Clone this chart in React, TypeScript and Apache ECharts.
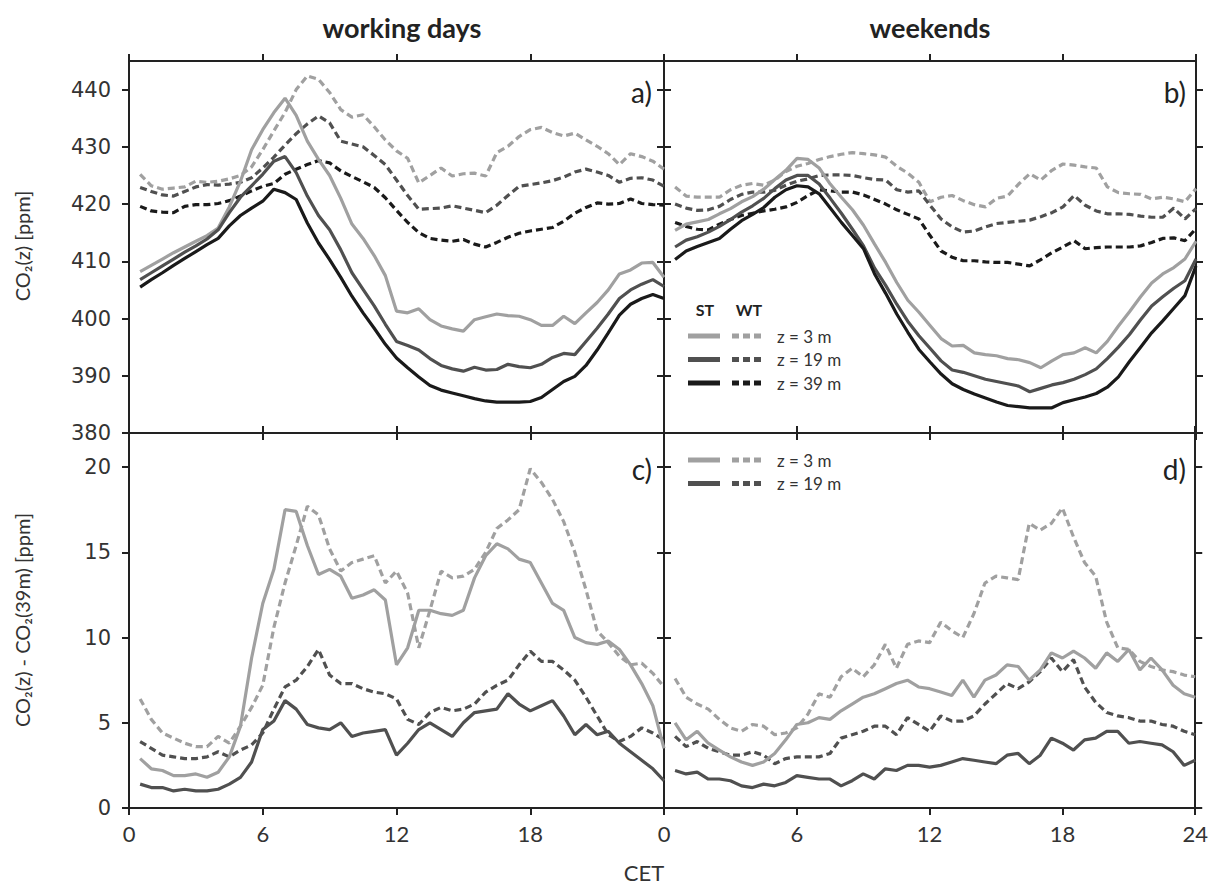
import React, { useEffect, useRef } from 'react';
import * as echarts from 'echarts';

// Half-hourly time axis (CET hours)
const hours = [0.5, 1, 1.5, 2, 2.5, 3, 3.5, 4, 4.5, 5, 5.5, 6, 6.5, 7, 7.5, 8, 8.5, 9, 9.5, 10, 10.5, 11, 11.5, 12,
  12.5, 13, 13.5, 14, 14.5, 15, 15.5, 16, 16.5, 17, 17.5, 18, 18.5, 19, 19.5, 20, 20.5, 21, 21.5, 22, 22.5, 23, 23.5, 24];

const xTicks = [0, 6, 12, 18, 24];
const topYTicks = [380, 390, 400, 410, 420, 430, 440];
const bottomYTicks = [0, 5, 10, 15, 20];

// a) working days, CO2(z)
const aST3 = [408.2, 409.3, 410.4, 411.5, 412.5, 413.5, 414.5, 415.8, 419.5, 424.0, 429.5, 433.0, 436.0, 438.5, 435.5, 431.0,
  427.8, 425.0, 421.0, 416.5, 414.0, 411.0, 407.5, 401.3, 401.0, 401.7, 399.8, 398.7, 398.2, 397.8, 399.8, 400.3,
  400.8, 400.5, 400.4, 399.8, 398.8, 398.8, 400.4, 399.1, 401.0, 402.8, 405.0, 407.8, 408.5, 409.7, 409.8, 407.2];
const aST19 = [406.8, 408.0, 409.2, 410.4, 411.6, 412.7, 413.9, 415.5, 418.5, 421.2, 423.2, 425.2, 427.5, 428.3, 425.5, 421.4,
  418.0, 415.5, 412.0, 408.0, 405.1, 402.2, 399.0, 396.0, 395.3, 394.5, 393.0, 391.8, 391.2, 390.8, 391.5, 391.0,
  391.1, 392.0, 391.6, 391.4, 392.0, 393.2, 393.9, 393.7, 396.0, 398.3, 400.8, 403.5, 405.0, 406.0, 406.8, 405.6];
const aST39 = [405.5, 406.8, 408.0, 409.3, 410.5, 411.7, 412.9, 414.0, 416.2, 418.0, 419.3, 420.5, 422.6, 422.0, 420.8, 416.7,
  413.2, 410.3, 407.2, 403.9, 401.0, 398.3, 395.5, 393.1, 391.4, 389.8, 388.3, 387.5, 387.0, 386.5, 386.0, 385.6,
  385.4, 385.4, 385.4, 385.5, 386.2, 387.6, 389.0, 389.9, 391.8, 394.5, 397.5, 400.6, 402.5, 403.5, 404.2, 403.5];
const aWT3 = [425.2, 423.2, 422.6, 422.8, 423.0, 424.0, 423.8, 424.0, 424.4, 425.0, 426.5, 429.5, 432.8, 436.0, 440.0, 442.4,
  441.8, 439.5, 436.5, 435.2, 435.6, 433.5, 431.2, 429.3, 428.0, 423.7, 425.0, 426.3, 424.9, 425.3, 425.4, 424.9,
  429.0, 430.1, 431.8, 433.0, 433.4, 432.5, 431.9, 432.4, 431.2, 430.1, 428.8, 426.9, 428.8, 428.3, 427.5, 426.1];
const aWT19 = [422.9, 422.2, 421.6, 421.4, 422.2, 423.0, 423.4, 423.3, 423.5, 423.8, 424.6, 426.3, 428.2, 430.3, 432.3, 434.0,
  435.4, 434.2, 431.0, 430.5, 430.0, 428.5, 426.9, 424.2, 421.5, 419.1, 419.2, 419.3, 419.7, 419.3, 418.9, 418.5,
  419.8, 421.5, 423.1, 423.4, 423.7, 424.1, 424.7, 425.6, 426.1, 425.6, 425.0, 423.8, 424.5, 424.6, 424.2, 423.1];
const aWT39 = [419.6, 418.8, 418.6, 418.5, 419.6, 419.9, 419.9, 420.1, 420.6, 421.4, 422.3, 423.1, 423.6, 425.2, 426.1, 426.9,
  427.6, 427.2, 425.8, 424.8, 423.9, 422.9, 421.1, 418.9, 416.8, 415.0, 414.0, 413.7, 413.5, 413.8, 413.0, 412.5,
  413.3, 414.2, 414.9, 415.3, 415.6, 415.9, 417.0, 418.4, 419.4, 420.2, 420.0, 420.1, 420.9, 420.1, 419.9, 419.8];

// b) weekends, CO2(z)
const bST3 = [415.4, 416.5, 416.9, 417.3, 418.3, 419.2, 420.4, 421.3, 422.6, 424.3, 425.9, 428.0, 427.8, 426.3, 423.5, 421.2,
  419.0, 416.3, 413.0, 409.8, 406.3, 403.2, 401.1, 398.8, 396.5, 395.2, 395.3, 394.0, 393.7, 393.5, 393.0, 392.8,
  392.3, 391.4, 392.6, 393.7, 394.0, 394.9, 394.0, 396.0, 398.7, 401.2, 403.8, 406.2, 407.8, 408.9, 410.4, 413.5];
const bST19 = [412.5, 413.7, 414.3, 415.1, 416.1, 417.3, 418.6, 419.7, 421.0, 422.7, 424.2, 425.0, 425.0, 423.5, 421.0, 418.4,
  415.6, 412.7, 408.8, 405.8, 402.5, 399.5, 397.0, 394.8, 392.6, 391.0, 390.6, 390.0, 389.4, 389.0, 388.6, 388.2,
  387.2, 387.8, 388.4, 388.8, 389.4, 390.2, 391.2, 393.0, 395.0, 397.2, 399.8, 402.2, 403.8, 405.3, 406.6, 410.4];
const bST39 = [410.3, 411.8, 412.6, 413.3, 414.0, 415.6, 417.1, 418.2, 419.4, 421.2, 422.5, 423.2, 423.0, 421.8, 419.3, 416.8,
  414.5, 412.2, 407.8, 404.4, 400.8, 397.6, 394.6, 392.4, 390.3, 388.6, 387.6, 386.8, 386.1, 385.4, 384.8, 384.6,
  384.4, 384.4, 384.4, 385.3, 385.8, 386.3, 386.9, 388.0, 389.8, 392.5, 395.0, 397.5, 399.6, 401.8, 404.0, 409.2];
const bWT3 = [423.0, 421.4, 421.2, 421.2, 421.2, 422.5, 423.3, 423.6, 423.3, 424.2, 425.7, 426.6, 427.1, 427.8, 428.3, 428.7,
  429.0, 428.8, 428.6, 428.2, 426.6, 425.4, 423.8, 420.4, 421.2, 421.5, 420.6, 419.9, 419.5, 421.0, 421.4, 423.5,
  425.3, 424.2, 425.9, 427.0, 426.8, 426.5, 426.3, 423.0, 422.0, 421.8, 421.7, 420.9, 421.2, 420.9, 420.4, 422.7];
const bWT19 = [420.0, 419.3, 418.9, 419.0, 419.6, 420.8, 421.7, 422.1, 422.1, 422.4, 423.3, 424.0, 424.4, 425.0, 425.1, 425.1,
  425.0, 424.6, 424.3, 424.2, 422.5, 422.1, 422.3, 419.8, 417.4, 416.0, 415.1, 415.3, 416.0, 416.6, 416.8, 417.0,
  417.2, 417.8, 418.5, 419.5, 421.5, 419.8, 418.8, 418.3, 418.3, 418.2, 417.9, 417.7, 417.7, 419.3, 417.4, 419.2];
const bWT39 = [416.8, 416.1, 415.6, 415.5, 416.5, 417.3, 418.0, 418.4, 418.8, 419.1, 419.5, 420.3, 421.5, 422.5, 422.3, 422.1,
  422.1, 421.6, 420.8, 420.0, 419.0, 418.2, 417.4, 414.5, 411.8, 410.7, 410.1, 410.1, 409.9, 409.8, 409.8, 409.5,
  409.2, 410.3, 411.5, 412.5, 413.6, 412.2, 412.4, 412.5, 412.5, 412.5, 412.7, 413.3, 414.0, 414.1, 413.6, 415.7];

// c) working days, CO2(z) - CO2(39m)
const cST3 = [2.9, 2.3, 2.2, 1.9, 1.9, 2.0, 1.8, 2.1, 3.0, 4.8, 8.8, 12.0, 14.0, 17.5, 17.4, 15.4,
  13.7, 14.0, 13.6, 12.3, 12.5, 12.8, 12.2, 8.4, 9.4, 11.6, 11.6, 11.4, 11.3, 11.6, 13.5, 14.8,
  15.5, 15.2, 14.6, 14.4, 13.2, 12.0, 11.6, 10.0, 9.7, 9.6, 9.8, 9.3, 8.4, 7.3, 6.0, 3.5];
const cWT3 = [6.4, 5.2, 4.4, 4.1, 3.8, 3.6, 3.6, 4.2, 3.8, 4.8, 5.9, 7.2, 10.6, 13.2, 15.4, 17.7,
  17.2, 15.2, 13.9, 14.4, 14.6, 14.8, 13.2, 13.9, 12.6, 9.4, 11.6, 13.9, 13.5, 13.6, 14.0, 15.0,
  16.4, 16.9, 17.5, 19.9, 19.1, 18.1, 16.8, 15.0, 12.8, 10.4, 9.7, 8.9, 8.4, 8.5, 7.9, 7.1];
const cST19 = [1.4, 1.2, 1.2, 1.0, 1.1, 1.0, 1.0, 1.1, 1.4, 1.8, 2.7, 4.6, 5.1, 6.3, 5.8, 4.9,
  4.7, 4.6, 5.0, 4.2, 4.4, 4.5, 4.6, 3.1, 3.8, 4.6, 5.0, 4.6, 4.2, 5.0, 5.6, 5.7,
  5.8, 6.7, 6.1, 5.7, 6.0, 6.3, 5.4, 4.3, 4.9, 4.3, 4.5, 3.8, 3.3, 2.8, 2.3, 1.6];
const cWT19 = [3.9, 3.5, 3.1, 3.0, 2.9, 2.9, 3.0, 3.3, 3.0, 3.4, 3.7, 4.4, 5.8, 7.1, 7.5, 8.3,
  9.3, 7.8, 7.3, 7.3, 7.0, 6.8, 6.7, 6.4, 5.2, 4.9, 5.6, 5.9, 5.7, 5.8, 6.1, 6.8,
  7.2, 7.5, 8.4, 9.2, 8.6, 8.6, 8.1, 7.5, 6.5, 5.4, 4.3, 3.9, 4.2, 4.7, 4.4, 4.0];

// d) weekends, CO2(z) - CO2(39m)
const dST3 = [5.0, 4.0, 4.5, 3.8, 3.4, 3.0, 2.7, 2.5, 2.7, 3.2, 4.0, 4.9, 5.0, 5.3, 5.2, 5.7,
  6.1, 6.5, 6.7, 7.0, 7.3, 7.5, 7.1, 7.0, 6.8, 6.6, 7.5, 6.5, 7.5, 7.8, 8.4, 8.3,
  7.5, 8.1, 9.1, 8.8, 9.2, 8.8, 8.2, 9.1, 8.6, 9.3, 8.1, 8.8, 8.1, 7.2, 6.7, 6.5];
const dWT3 = [7.6, 6.5, 6.1, 5.8, 5.2, 4.7, 4.5, 4.9, 4.8, 4.3, 4.4, 4.7, 5.5, 6.7, 6.5, 7.7,
  8.2, 7.7, 8.4, 9.6, 8.2, 9.6, 9.8, 9.7, 10.9, 10.4, 10.0, 11.4, 13.2, 13.6, 13.5, 13.4,
  16.7, 16.3, 16.7, 17.6, 15.9, 14.4, 13.6, 10.9, 9.4, 9.3, 8.6, 8.3, 8.1, 8.0, 7.8, 7.7];
const dST19 = [2.2, 2.0, 2.1, 1.7, 1.7, 1.6, 1.3, 1.2, 1.4, 1.3, 1.5, 1.9, 1.8, 1.7, 1.7, 1.3,
  1.6, 2.0, 1.7, 2.3, 2.2, 2.5, 2.5, 2.4, 2.5, 2.7, 2.9, 2.8, 2.7, 2.6, 3.1, 3.2,
  2.6, 3.1, 4.1, 3.8, 3.4, 4.0, 4.1, 4.5, 4.5, 3.8, 3.9, 3.8, 3.7, 3.3, 2.5, 2.8];
const dWT19 = [4.2, 3.6, 3.9, 3.5, 3.3, 3.1, 3.1, 3.3, 3.1, 2.6, 2.9, 3.0, 3.0, 3.0, 3.2, 4.1,
  4.3, 4.5, 4.8, 4.8, 4.3, 5.3, 4.9, 4.5, 5.4, 5.1, 5.1, 5.4, 6.1, 6.7, 7.3, 7.0,
  7.4, 8.0, 8.8, 8.0, 8.7, 7.1, 6.2, 5.6, 5.4, 5.3, 5.1, 5.1, 4.9, 4.8, 4.5, 4.3];

const C3 = '#a0a0a0';
const C19 = '#505050';
const C39 = '#1a1a1a';
const AXIS = '#222';
const DASH = [7, 4];

const panels = [
  { left: 129, top: 61, width: 535, height: 372, min: 380, max: 445, ticks: topYTicks, xLabels: false, yLabels: true,
    series: [
      { v: aWT3, c: C3, d: true }, { v: aWT19, c: C19, d: true }, { v: aWT39, c: C39, d: true },
      { v: aST3, c: C3, d: false }, { v: aST19, c: C19, d: false }, { v: aST39, c: C39, d: false },
    ] },
  { left: 664, top: 61, width: 532, height: 372, min: 380, max: 445, ticks: topYTicks, xLabels: false, yLabels: false,
    series: [
      { v: bWT3, c: C3, d: true }, { v: bWT19, c: C19, d: true }, { v: bWT39, c: C39, d: true },
      { v: bST3, c: C3, d: false }, { v: bST19, c: C19, d: false }, { v: bST39, c: C39, d: false },
    ] },
  { left: 129, top: 433, width: 535, height: 375, min: 0, max: 22, ticks: bottomYTicks, xLabels: true, yLabels: true,
    series: [
      { v: cWT3, c: C3, d: true }, { v: cWT19, c: C19, d: true },
      { v: cST3, c: C3, d: false }, { v: cST19, c: C19, d: false },
    ] },
  { left: 664, top: 433, width: 532, height: 375, min: 0, max: 22, ticks: bottomYTicks, xLabels: true, yLabels: false,
    series: [
      { v: dWT3, c: C3, d: true }, { v: dWT19, c: C19, d: true },
      { v: dST3, c: C3, d: false }, { v: dST19, c: C19, d: false },
    ] },
];

const SANS = 'Lato, "Open Sans", sans-serif';

function buildOption() {
  const grid: any[] = [];
  const xAxis: any[] = [];
  const yAxis: any[] = [];
  const series: any[] = [];
  const lineCommon = { show: true, onZero: false, lineStyle: { color: AXIS, width: 2 } };
  const tickCommon = { show: true, inside: false, length: 7, lineStyle: { color: AXIS, width: 2 } };

  panels.forEach((p, i) => {
    grid.push({ left: p.left, top: p.top, width: p.width, height: p.height, containLabel: false });
    const isRight = i % 2 === 1;
    const xLabelVals = isRight ? [6, 12, 18, 24] : xTicks;
    xAxis.push({
      gridIndex: i, type: 'value', min: 0, max: 24, interval: 6, position: 'bottom',
      axisLine: lineCommon, axisTick: { ...tickCommon, customValues: xTicks }, splitLine: { show: false },
      axisLabel: {
        show: p.xLabels, customValues: xLabelVals, margin: 14, color: '#333', fontSize: 22, fontFamily: SANS,
        formatter: (v: number) => (!isRight && v === 24 ? '0' : String(v)),
      },
    });
    xAxis.push({
      gridIndex: i, type: 'value', min: 0, max: 24, interval: 6, position: 'top',
      axisLine: lineCommon, axisTick: { ...tickCommon, customValues: xTicks }, splitLine: { show: false },
      axisLabel: { show: false },
    });
    yAxis.push({
      gridIndex: i, type: 'value', min: p.min, max: p.max, interval: 5, position: 'left',
      axisLine: lineCommon, axisTick: { ...tickCommon, customValues: p.ticks }, splitLine: { show: false },
      axisLabel: {
        show: p.yLabels, customValues: p.ticks, margin: 18, color: '#333', fontSize: 21,
        fontFamily: '"DejaVu Sans", Verdana, sans-serif',
      },
    });
    yAxis.push({
      gridIndex: i, type: 'value', min: p.min, max: p.max, interval: 5, position: 'right',
      axisLine: lineCommon, axisTick: { ...tickCommon, customValues: p.ticks }, splitLine: { show: false },
      axisLabel: { show: false },
    });
    p.series.forEach((s) => {
      series.push({
        type: 'line', xAxisIndex: i * 2, yAxisIndex: i * 2, silent: true,
        showSymbol: false, symbol: 'none', clip: true,
        data: hours.map((h, k) => [h, s.v[k]]),
        lineStyle: { color: s.c, width: 3.2, type: s.d ? DASH : 'solid' },
        z: s.d ? 2 : 3,
      });
    });
  });

  const txt = (x: number, y: number, text: string, o: any = {}) => ({
    type: 'text', x, y, rotation: o.rotation || 0,
    style: {
      text, fill: o.fill || '#333', fontSize: o.size || 16, fontFamily: o.family || SANS,
      fontWeight: o.weight || 'normal', align: o.align || 'left', verticalAlign: 'middle',
    },
  });
  const seg = (x1: number, x2: number, y: number, c: string, dashed: boolean) => ({
    type: 'line', shape: { x1, y1: y, x2, y2: y },
    style: { stroke: c, lineWidth: 5, lineDash: dashed ? [7, 4] : null },
  });

  const legendRows = (y0: number, rows: { c: string; t: string }[]) => {
    const out: any[] = [];
    rows.forEach((r, k) => {
      const y = y0 + k * 23.5;
      out.push(seg(688, 720, y, r.c, false));
      out.push(seg(732, 764, y, r.c, true));
      out.push(txt(777, y, r.t, { size: 17, fill: '#333' }));
    });
    return out;
  };

  const graphic: any[] = [
    txt(402, 27, 'working days', { size: 27, weight: 'bold', align: 'center', fill: '#222' }),
    txt(930, 27, 'weekends', { size: 27, weight: 'bold', align: 'center', fill: '#222' }),
    txt(644, 872, 'CET', { size: 22, align: 'center', fill: '#333' }),
    txt(22, 246, 'CO₂(z) [ppm]', { size: 20, align: 'center', rotation: Math.PI / 2, fill: '#333' }),
    txt(22, 620, 'CO₂(z) - CO₂(39m) [ppm]', { size: 20, align: 'center', rotation: Math.PI / 2, fill: '#333' }),
    txt(652, 92, 'a)', { size: 28, align: 'right', fill: '#222' }),
    txt(1186, 92, 'b)', { size: 28, align: 'right', fill: '#222' }),
    txt(652, 469, 'c)', { size: 28, align: 'right', fill: '#222' }),
    txt(1186, 469, 'd)', { size: 28, align: 'right', fill: '#222' }),
    txt(705, 309, 'ST', { size: 16, weight: 'bold', align: 'center', fill: '#222' }),
    txt(749, 309, 'WT', { size: 16, weight: 'bold', align: 'center', fill: '#222' }),
    ...legendRows(336, [
      { c: C3, t: 'z = 3 m' }, { c: C19, t: 'z = 19 m' }, { c: C39, t: 'z = 39 m' },
    ]),
    ...legendRows(460, [
      { c: C3, t: 'z = 3 m' }, { c: C19, t: 'z = 19 m' },
    ]),
  ];

  return { animation: false, backgroundColor: '#fff', grid, xAxis, yAxis, series, graphic };
}

export default function App() {
  const ref = useRef<HTMLDivElement>(null);
  useEffect(() => {
    if (!ref.current) return;
    const chart = echarts.init(ref.current, undefined, { renderer: 'svg' });
    chart.setOption(buildOption() as any);
    return () => chart.dispose();
  }, []);
  return <div ref={ref} style={{ position: 'absolute', left: 0, top: 0, width: 1211, height: 885, background: '#fff' }} />;
}
